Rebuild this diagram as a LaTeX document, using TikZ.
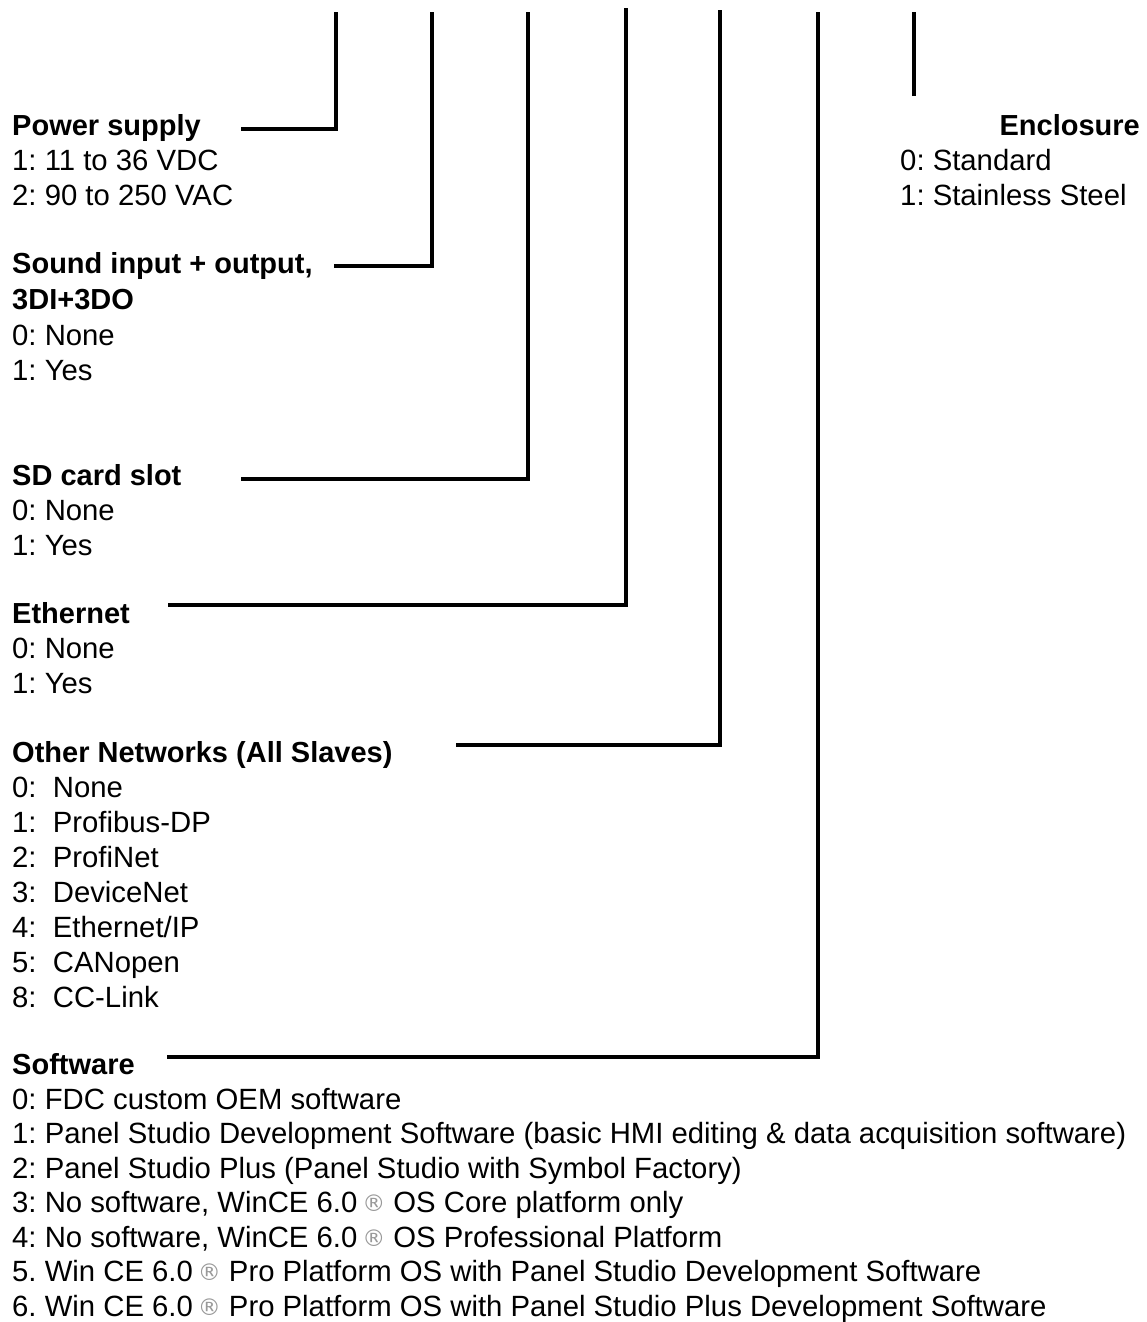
\documentclass[tikz,border=0pt]{standalone}
\usepackage{fontspec}
\setmainfont{Liberation Sans}
\newfontfamily\dejavu{DejaVu Sans}
\newcommand\regmark{\textcolor{black!40}{\raisebox{0.05ex}{\dejavu\fontsize{23}{23}\selectfont ®}}}
\begin{document}
\frenchspacing
\begin{tikzpicture}[x=1pt,y=-1pt,
  txt/.style={anchor=base west, inner sep=0pt, font=\fontsize{29.3}{35}\selectfont},
  hd/.style={anchor=base west, inner sep=0pt, font=\fontsize{29}{35}\selectfont\bfseries},
  ln/.style={line width=4.5pt, line join=miter}]
\useasboundingbox (0,0) rectangle (1147,1322);
% Power supply
\node[hd] (ps) at (12,135) {Power supply};
\node[txt] (ps1) at (12,170) {1: 11 to 36 VDC};
\node[txt] (ps2) at (12,205) {2: 90 to 250 VAC};
% Sound
\node[hd] (snd) at (12,273) {Sound input + output,};
\node[hd] (snd2) at (12,309) {3DI+3DO};
\node[txt] (snd3) at (12,345) {0: None};
\node[txt] (snd4) at (12,380) {1: Yes};
% SD
\node[hd] (sd) at (12,485) {SD card slot};
\node[txt] (sd1) at (12,520) {0: None};
\node[txt] (sd2) at (12,555) {1: Yes};
% Ethernet
\node[hd] (eth) at (12,623) {Ethernet};
\node[txt] (eth1) at (12,658) {0: None};
\node[txt] (eth2) at (12,693) {1: Yes};
% Other networks
\node[hd] (net) at (12,762) {Other Networks (All Slaves)};
\node[txt] (n0) at (12,797) {0:\ \ None};
\node[txt] (n1) at (12,832) {1:\ \ Profibus-DP};
\node[txt] (n2) at (12,867) {2:\ \ ProfiNet};
\node[txt] (n3) at (12,902) {3:\ \ DeviceNet};
\node[txt] (n4) at (12,937) {4:\ \ Ethernet/IP};
\node[txt] (n5) at (12,972) {5:\ \ CANopen};
\node[txt] (n8) at (12,1007) {8:\ \ CC-Link};
% Software
\node[hd] (sw) at (12,1074) {Software};
\node[txt] (s0) at (12,1109) {0: FDC custom OEM software};
\node[txt] (s1) at (12,1143.5) {1: Panel Studio Development Software (basic HMI editing \& data acquisition software)};
\node[txt] (s2) at (12,1178) {2: Panel Studio Plus (Panel Studio with Symbol Factory)};
\node[txt] (s3) at (12,1212.5) {3: No software, WinCE 6.0\,\regmark\ OS Core platform only};
\node[txt] (s4) at (12,1247) {4: No software, WinCE 6.0\,\regmark\ OS Professional Platform};
\node[txt] (s5) at (12,1281.5) {5. Win CE 6.0\,\regmark\ Pro Platform OS with Panel Studio Development Software};
\node[txt] (s6) at (12,1316) {6. Win CE 6.0\,\regmark\ Pro Platform OS with Panel Studio Plus Development Software};
% Enclosure
\node[hd, anchor=base east] (enc) at (1140,135) {Enclosure};
\node[txt] (enc1) at (900,170) {0: Standard};
\node[txt] (enc2) at (900,205) {1: Stainless Steel};
% connector coordinates
\coordinate (a0) at (241,129); \coordinate (a1) at (336,129); \coordinate (a2) at (336,12);
\coordinate (b0) at (334,266); \coordinate (b1) at (432,266); \coordinate (b2) at (432,12);
\coordinate (c0) at (241,479); \coordinate (c1) at (528,479); \coordinate (c2) at (528,12);
\coordinate (d0) at (168,605); \coordinate (d1) at (626,605); \coordinate (d2) at (626,8);
\coordinate (e0) at (456,745); \coordinate (e1) at (720,745); \coordinate (e2) at (720,10);
\coordinate (f0) at (167,1057); \coordinate (f1) at (818,1057); \coordinate (f2) at (818,12);
\coordinate (g1) at (914,96); \coordinate (g2) at (914,12);
\draw[ln] (a0) -- (a1) -- (a2);
\draw[ln] (b0) -- (b1) -- (b2);
\draw[ln] (c0) -- (c1) -- (c2);
\draw[ln] (d0) -- (d1) -- (d2);
\draw[ln] (e0) -- (e1) -- (e2);
\draw[ln] (f0) -- (f1) -- (f2);
\draw[ln] (g1) -- (g2);
\end{tikzpicture}
\end{document}
